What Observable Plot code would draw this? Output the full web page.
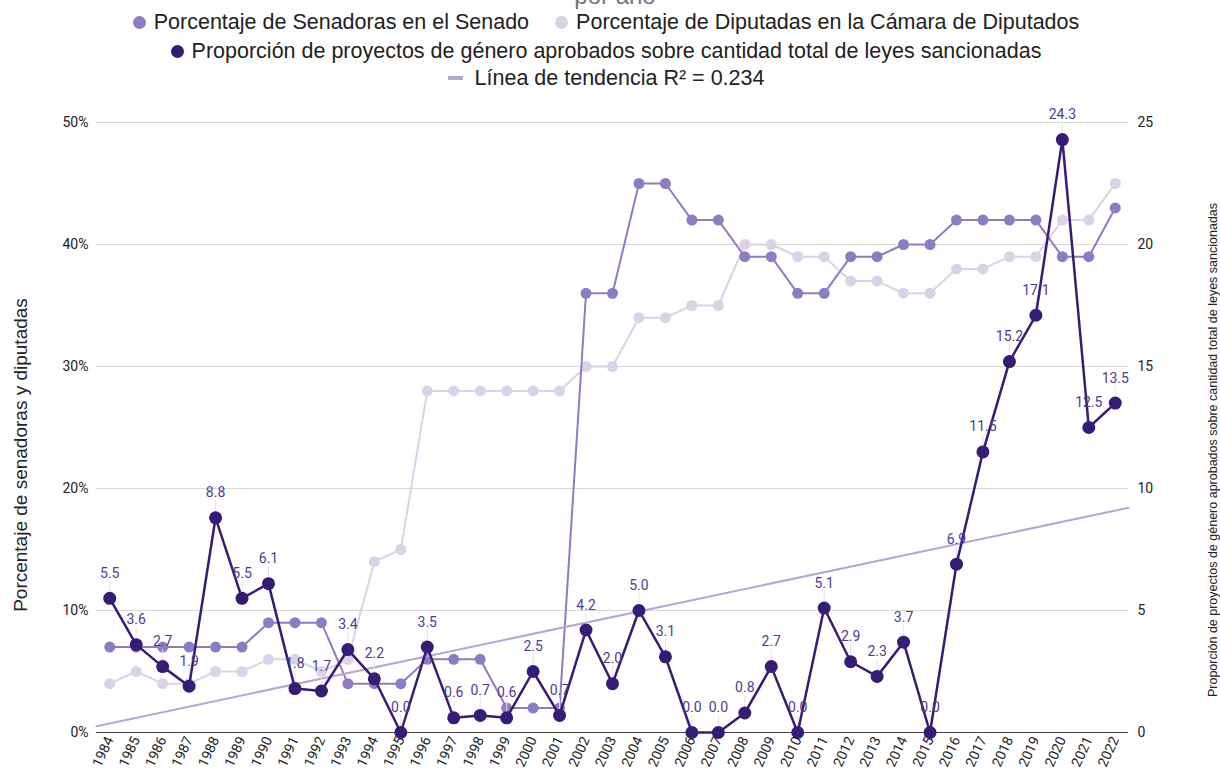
<!DOCTYPE html>
<html>
<head>
<meta charset="utf-8">
<script src="https://cdn.jsdelivr.net/npm/d3@7"></script>
<script src="https://cdn.jsdelivr.net/npm/@observablehq/plot@0.6"></script>
<style>
  html, body { margin: 0; padding: 0; background: #fff; }
  #wrap { position: relative; width: 1220px; height: 774px; overflow: hidden; font-family: "Liberation Sans", Arial, sans-serif; color: #222; }
  #title { position: absolute; top: -16px; left: 0; width: 1230px; text-align: center; font-size: 24px; line-height: 24px; color: #757575; }
  #legend { position: absolute; top: 0; left: 0; width: 1212px; height: 100px; font-size: 21.5px; }
  .row { position: absolute; left: 0; width: 100%; display: flex; justify-content: center; align-items: center; height: 26px; }
  .item { display: flex; align-items: center; margin: 0 13px; white-space: nowrap; }
  .dot { width: 13px; height: 13px; border-radius: 50%; margin-right: 8px; }
  .dash { width: 15px; height: 4px; margin-right: 12px; }
  #chart { position: absolute; top: 100px; left: 0; }
  #chart svg text { font-size: 14px; font-family: Roboto, sans-serif; }
  .ytitle { position: absolute; white-space: nowrap; transform: translate(-50%, -50%) rotate(-90deg); }
</style>
</head>
<body>
<div id="wrap">
  <div id="title">por año</div>
  <div id="legend"></div>
  <div id="chart"></div>
  <div class="ytitle" style="left:21px; top:455px; font-size:19px;">Porcentaje de senadoras y diputadas</div>
  <div class="ytitle" style="left:1213px; top:450px; font-size:12.5px;">Proporción de proyectos de género aprobados sobre cantidad total de leyes sancionadas</div>
</div>
<script>
// ---- data ----
const years = [1984,1985,1986,1987,1988,1989,1990,1991,1992,1993,1994,1995,1996,1997,1998,1999,2000,2001,2002,2003,2004,2005,2006,2007,2008,2009,2010,2011,2012,2013,2014,2015,2016,2017,2018,2019,2020,2021,2022];
const senadoras = [7,7,7,7,7,7,9,9,9,4,4,4,6,6,6,2,2,2,36,36,45,45,42,42,39,39,36,36,39,39,40,40,42,42,42,42,39,39,43];
const diputadas = [4,5,4,4,5,5,6,6,5,6,14,15,28,28,28,28,28,28,30,30,34,34,35,35,40,40,39,39,37,37,36,36,38,38,39,39,42,42,45];
const proyectos = [5.5,3.6,2.7,1.9,8.8,5.5,6.1,1.8,1.7,3.4,2.2,0.0,3.5,0.6,0.7,0.6,2.5,0.7,4.2,2.0,5.0,3.1,0.0,0.0,0.8,2.7,0.0,5.1,2.9,2.3,3.7,0.0,6.9,11.5,15.2,17.1,24.3,12.5,13.5];
const leftTicks = [0,10,20,30,40,50];
const legendLabels = {
  sen: "Porcentaje de Senadoras en el Senado",
  dip: "Porcentaje de Diputadas en la Cámara de Diputados",
  pro: "Proporción de proyectos de género aprobados sobre cantidad total de leyes sancionadas",
  tre: "Línea de tendencia R² = 0.234"
};
const colors = { sen: "#8e7cc3", dip: "#d9d2e9", pro: "#351c75", tre: "#b4a7d6", label: "#4d3c91" };

// ---- tables ----
const rows = years.map((y, i) => ({ year: y, sen: senadoras[i], dip: diputadas[i], pro: proyectos[i] }));
// right axis (0-25) mapped onto left axis (0-50%): factor 2
const k = 2;
// least squares trend on proyectos
const mx = d3.mean(years), my = d3.mean(proyectos);
const slope = d3.sum(years, (y, i) => (y - mx) * (proyectos[i] - my)) / d3.sum(years, y => (y - mx) ** 2);
const icpt = my - slope * mx;
const xDomain = [years[0] - 0.5, years[years.length - 1] + 0.5];
const trend = xDomain.map(x => ({ x, v: icpt + slope * x }));

// ---- legend ----
const legend = document.getElementById("legend");
function row(top, items) {
  const r = document.createElement("div");
  r.className = "row"; r.style.top = top + "px";
  items.forEach(([key, kind]) => {
    const it = document.createElement("div"); it.className = "item";
    const sw = document.createElement("div"); sw.className = kind; sw.style.background = colors[key];
    const t = document.createElement("span"); t.textContent = legendLabels[key];
    it.appendChild(sw); it.appendChild(t); r.appendChild(it);
  });
  legend.appendChild(r);
}
row(9, [["sen", "dot"], ["dip", "dot"]]);
row(38, [["pro", "dot"]]);
row(65, [["tre", "dash"]]);

// ---- chart ----
const chart = Plot.plot({
  width: 1220,
  height: 674,
  marginTop: 22,
  marginBottom: 42,
  marginLeft: 96,
  marginRight: 92,
  style: { fontFamily: "Roboto, sans-serif", fontSize: "14px", color: "#222", background: "#fff" },
  x: { type: "linear", domain: xDomain },
  y: { domain: [0, 50] },
  marks: [
    Plot.gridY(leftTicks, { stroke: "#d9d9d9", strokeOpacity: 1 }),
    Plot.ruleY([0], { stroke: "#444" }),
    Plot.axisY({ anchor: "left", ticks: leftTicks, tickFormat: d => d + "%", tickSize: 0, tickPadding: 8, label: null }),
    Plot.axisY({ anchor: "right", ticks: leftTicks, tickFormat: d => String(d / k), tickSize: 0, tickPadding: 9, label: null }),
    Plot.axisX({ ticks: years, tickFormat: d => String(d), tickRotate: -65, tickSize: 0, tickPadding: 5, label: null }),
    Plot.line(rows, { x: "year", y: "dip", stroke: colors.dip, strokeWidth: 2 }),
    Plot.dot(rows, { x: "year", y: "dip", fill: colors.dip, r: 5.5 }),
    Plot.line(rows, { x: "year", y: "sen", stroke: colors.sen, strokeWidth: 2 }),
    Plot.dot(rows, { x: "year", y: "sen", fill: colors.sen, r: 5.5 }),
    Plot.line(trend, { x: "x", y: d => d.v * k, stroke: colors.tre, strokeWidth: 2 }),
    Plot.ruleX(rows, { x: "year", y1: d => d.pro * k, y2: d => d.pro * k, insetTop: -17, insetBottom: 0, stroke: "#e3e3e3", strokeWidth: 1 }),
    Plot.line(rows, { x: "year", y: d => d.pro * k, stroke: colors.pro, strokeWidth: 2.5 }),
    Plot.dot(rows, { x: "year", y: d => d.pro * k, fill: colors.pro, r: 6.5 }),
    Plot.text(rows, { x: "year", y: d => d.pro * k, text: d => d.pro.toFixed(1), dy: -25, fill: colors.label })
  ]
});
document.getElementById("chart").appendChild(chart);
</script>
</body>
</html>
